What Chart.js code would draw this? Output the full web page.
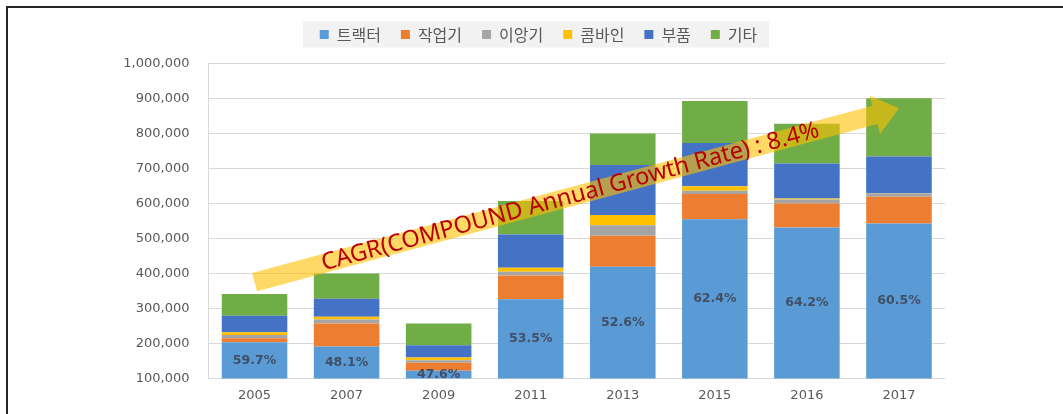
<!DOCTYPE html>
<html>
<head>
<meta charset="utf-8">
<script src="https://cdn.jsdelivr.net/npm/chart.js@4.4.1/dist/chart.umd.min.js"></script>
<style>
  html, body { margin: 0; padding: 0; background: #fff; }
  #wrap { width: 1063px; height: 414px; position: relative; }
</style>
</head>
<body>
<div id="wrap"><canvas id="machineChart" width="1063" height="414"></canvas></div>
<script>
const years = ['2005', '2007', '2009', '2011', '2013', '2015', '2016', '2017'];
const tractor = [203000, 191000, 122000, 326000, 419000, 555000, 531000, 543000];
const implement = [12000, 66000, 23000, 68000, 89000, 72000, 69000, 76000];
const transplanter = [9000, 11000, 7000, 11000, 30000, 9000, 11000, 10000];
const combine = [8000, 8000, 8000, 11000, 29000, 13000, 3000, 1000];
const parts = [47000, 52000, 35000, 95000, 143000, 124000, 100000, 104000];
const others = [62000, 72000, 62000, 96000, 90000, 120000, 114000, 167000];
const tractorShare = ['59.7%', '48.1%', '47.6%', '53.5%', '52.6%', '62.4%', '64.2%', '60.5%'];
const yTicks = [100000, 200000, 300000, 400000, 500000, 600000, 700000, 800000, 900000, 1000000];

// arrow in data coordinates: [category index, value]
const arrowFrom = [0, 375000];
const arrowTo = [7, 872000];
const arrowText = 'CAGR(COMPOUND Annual Growth Rate) : 8.4%';

// extra space under the legend
const legendGap = {
    id: 'legendGap',
    beforeInit(chart) {
        const fit = chart.legend.fit;
        chart.legend.fit = function () {
            fit.bind(chart.legend)();
            this.height += 11;
        };
    }
};

const frame = {
    id: 'frame',
    beforeDraw(chart) {
        const ctx = chart.ctx;
        ctx.save();
        ctx.fillStyle = '#fff';
        ctx.fillRect(0, 0, chart.width, chart.height);
        ctx.strokeStyle = '#262626';
        ctx.lineWidth = 2;
        ctx.beginPath();
        ctx.moveTo(7, chart.height);
        ctx.lineTo(7, 7);
        ctx.lineTo(chart.width, 7);
        ctx.stroke();

        // legend background
        const boxes = chart.legend.legendHitBoxes;
        if (boxes && boxes.length) {
            let l = Infinity, r = -Infinity, t = Infinity, b = -Infinity;
            boxes.forEach(h => {
                l = Math.min(l, h.left); r = Math.max(r, h.left + h.width);
                t = Math.min(t, h.top); b = Math.max(b, h.top + h.height);
            });
            const cy = (t + b) / 2;
            ctx.fillStyle = '#F2F2F2';
            ctx.fillRect(l - 17, cy - 13, r - l + 29, 26);
        }
        ctx.restore();
    }
};

const labelsAndArrow = {
    id: 'labelsAndArrow',
    afterDatasetsDraw(chart) {
        const ctx = chart.ctx;
        const area = chart.chartArea;
        const xs = chart.scales.x, ys = chart.scales.y;

        // share labels on tractor segment
        ctx.save();
        ctx.font = 'bold 12.5px "DejaVu Sans"';
        ctx.fillStyle = '#404F66';
        ctx.textAlign = 'center';
        ctx.textBaseline = 'middle';
        chart.getDatasetMeta(0).data.forEach((bar, i) => {
            const bottom = Math.min(bar.base, area.bottom);
            ctx.fillText(tractorShare[i], bar.x, (bar.y + bottom) / 2);
        });
        ctx.restore();

        // CAGR arrow
        const x0 = xs.getPixelForValue(arrowFrom[0]), y0 = ys.getPixelForValue(arrowFrom[1]);
        const x1 = xs.getPixelForValue(arrowTo[0]), y1 = ys.getPixelForValue(arrowTo[1]);
        const len = Math.hypot(x1 - x0, y1 - y0);
        const ang = Math.atan2(y1 - y0, x1 - x0);
        const bw = 9.5, hw = 20, hl = 25;
        ctx.save();
        ctx.translate(x0, y0);
        ctx.rotate(ang);
        ctx.fillStyle = 'rgba(255, 192, 0, 0.6)';
        ctx.beginPath();
        ctx.moveTo(0, -bw);
        ctx.lineTo(len - hl, -bw);
        ctx.lineTo(len - hl, -hw);
        ctx.lineTo(len, 0);
        ctx.lineTo(len - hl, hw);
        ctx.lineTo(len - hl, bw);
        ctx.lineTo(0, bw);
        ctx.closePath();
        ctx.fill();

        ctx.font = '20px "Noto Sans"';
        const w = ctx.measureText(arrowText).width;
        const size = 20 * (len * 0.77) / w;
        ctx.font = size.toFixed(1) + 'px "Noto Sans"';
        ctx.fillStyle = '#B80000';
        ctx.textAlign = 'center';
        ctx.textBaseline = 'middle';
        ctx.fillText(arrowText, len * 0.49, 0);
        ctx.restore();
    }
};

const ctx = document.getElementById('machineChart').getContext('2d');
new Chart(ctx, {
    type: 'bar',
    data: {
        labels: years,
        datasets: [
            { label: '트랙터', data: tractor, backgroundColor: '#5B9BD5' },
            { label: '작업기', data: implement, backgroundColor: '#ED7D31' },
            { label: '이앙기', data: transplanter, backgroundColor: '#A5A5A5' },
            { label: '콤바인', data: combine, backgroundColor: '#FFC000' },
            { label: '부품', data: parts, backgroundColor: '#4472C4' },
            { label: '기타', data: others, backgroundColor: '#70AD47' }
        ]
    },
    options: {
        responsive: false,
        animation: false,
        layout: { padding: { top: 6.5, left: 14, right: 0, bottom: 2 } },
        datasets: { bar: { categoryPercentage: 1, barPercentage: 0.712, borderWidth: 0 } },
        plugins: {
            tooltip: { enabled: false },
            legend: {
                position: 'top',
                labels: {
                    color: '#595959',
                    font: { family: '"Noto Sans CJK KR"', size: 16 },
                    boxWidth: 9,
                    boxHeight: 9,
                    padding: 20
                }
            }
        },
        scales: {
            x: {
                stacked: true,
                grid: { display: false, drawTicks: false },
                border: { display: false },
                ticks: { color: '#595959', font: { family: '"DejaVu Sans"', size: 13 }, padding: 9 }
            },
            y: {
                stacked: true,
                min: 100000,
                max: 1000000,
                afterFit(scale) { scale.width = 194.5; },
                afterBuildTicks(scale) { scale.ticks = yTicks.map(v => ({ value: v })); },
                grid: { color: '#D9D9D9', drawTicks: false },
                border: { color: '#D9D9D9' },
                ticks: {
                    color: '#595959',
                    font: { family: '"DejaVu Sans"', size: 13 },
                    padding: 19,
                    callback: v => v.toLocaleString('en-US')
                }
            },
            r: {
                type: 'linear',
                position: 'right',
                afterFit(scale) { scale.width = 118; },
                grid: { display: false, drawTicks: false },
                border: { display: false },
                ticks: { display: false }
            }
        }
    },
    plugins: [legendGap, frame, labelsAndArrow]
});
</script>
</body>
</html>
